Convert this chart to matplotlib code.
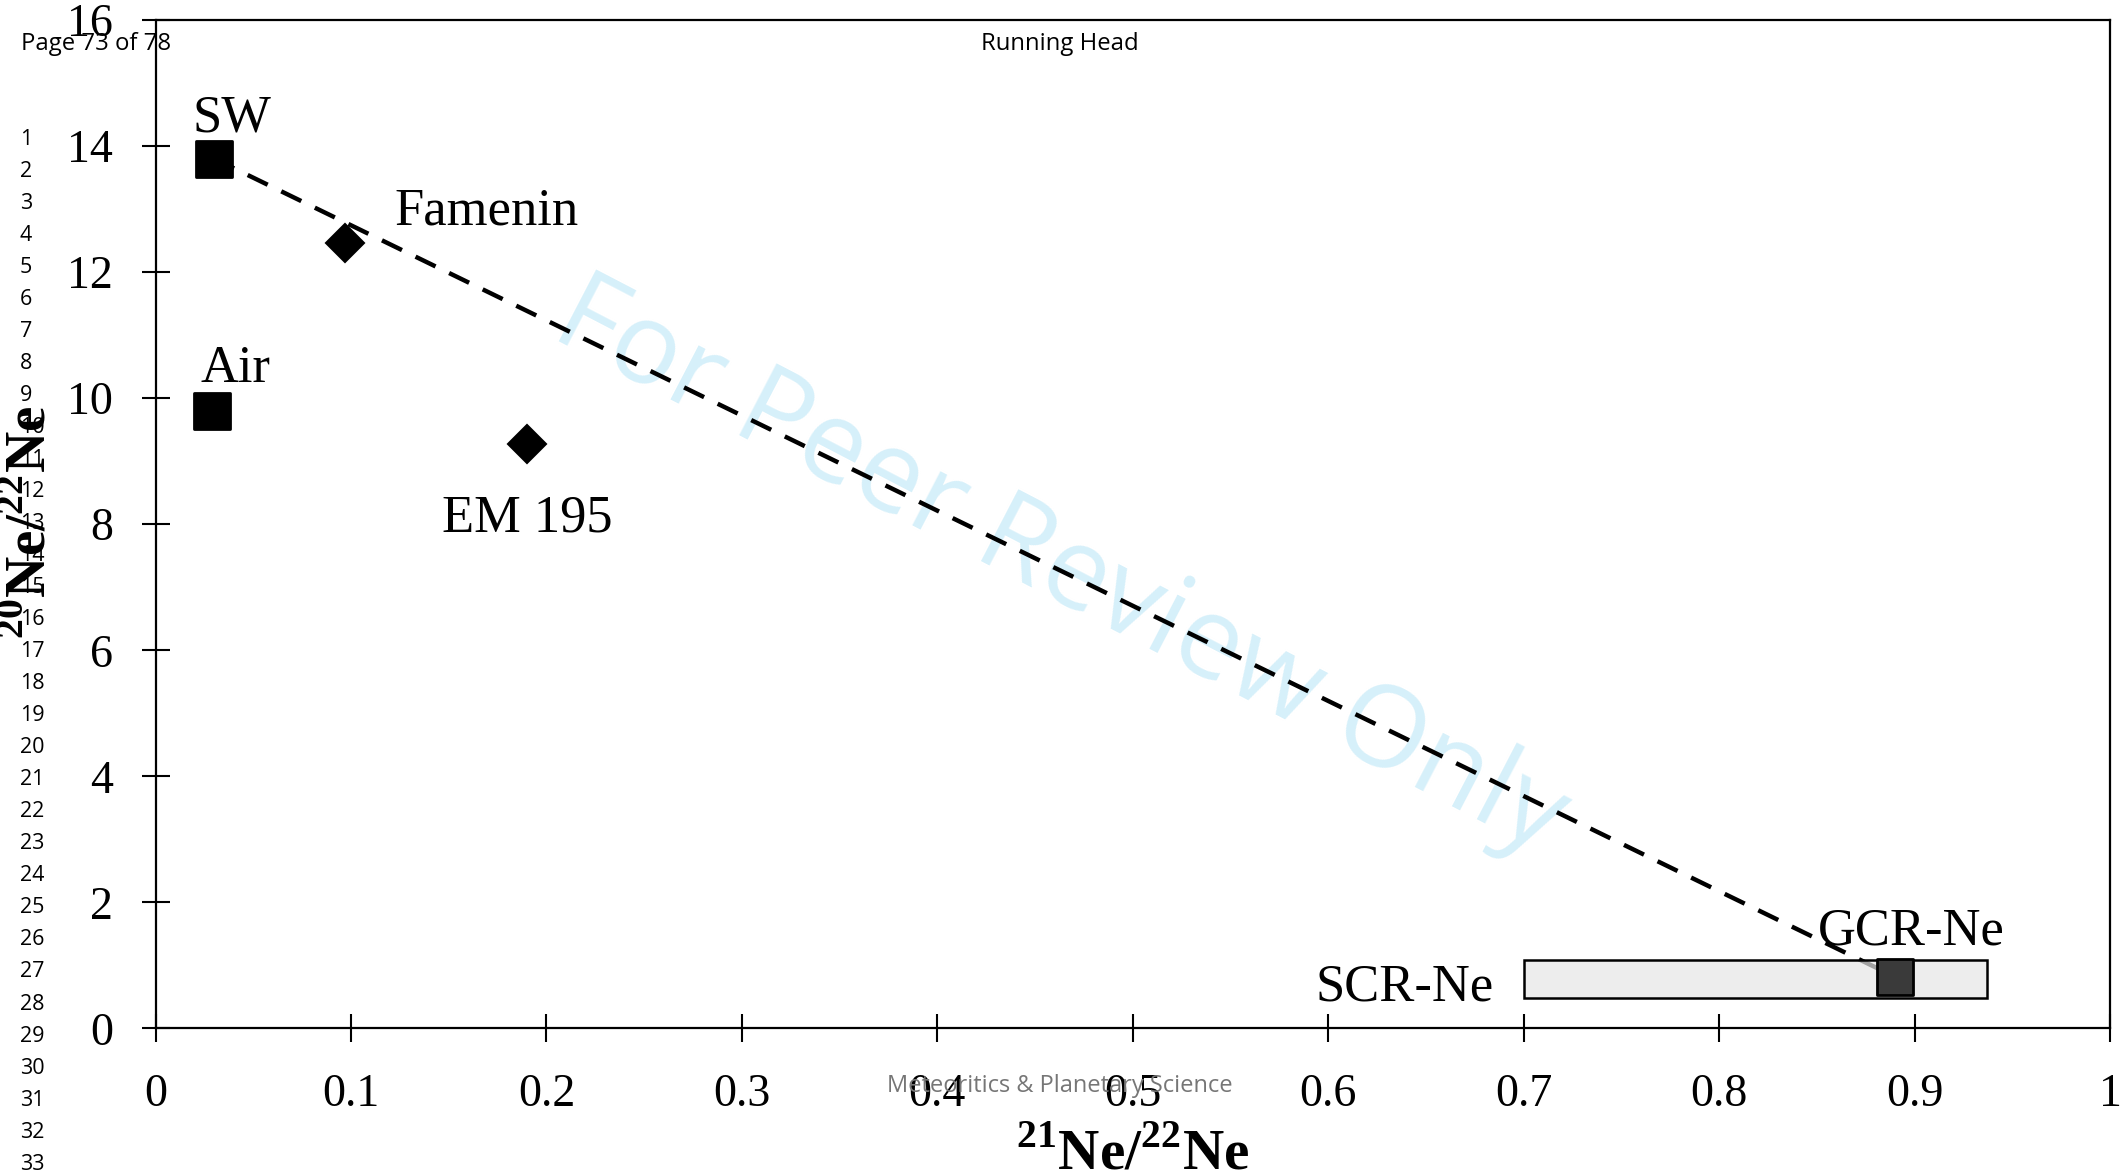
import matplotlib.pyplot as plt
from matplotlib.markers import MarkerStyle
from matplotlib.patches import Rectangle

plt.rcParams['font.family'] = 'Liberation Serif'
plt.rcParams['mathtext.fontset'] = 'custom'
plt.rcParams['mathtext.rm'] = 'Liberation Serif'
plt.rcParams['mathtext.bf'] = 'Liberation Serif:bold'

# end members (squares)
endmember_names = ['SW', 'Air']
endmember_x = [0.030, 0.029]
endmember_y = [13.80, 9.80]

# meteorites (diamonds)
meteorite_names = ['Famenin', 'EM 195']
meteorite_x = [0.097, 0.190]
meteorite_y = [12.46, 9.27]

# cosmogenic components
gcr_x = 0.890
gcr_y = 0.82
scr_x = [0.700, 0.937]
scr_y = [0.49, 1.09]

xticks = [0, 0.1, 0.2, 0.3, 0.4, 0.5, 0.6, 0.7, 0.8, 0.9, 1.0]
xtick_labels = ['0', '0.1', '0.2', '0.3', '0.4', '0.5', '0.6', '0.7', '0.8', '0.9', '1']
yticks = [0, 2, 4, 6, 8, 10, 12, 14, 16]

# where the names sit (left edge, baseline) in data units
label_pos = {
    'SW': (0.019, 14.23),
    'Air': (0.023, 10.25),
    'Famenin': (0.1225, 12.75),
    'EM 195': (0.1464, 7.88),
    'GCR-Ne': (0.8506, 1.325),
    'SCR-Ne': (0.5936, 0.452),
}

fig = plt.figure(figsize=(21.2, 11.76), dpi=100)
ax = fig.add_axes([0.07335, 0.12543, 0.92193, 0.85757])
ax.patch.set_alpha(0)

# mixing line SW -> GCR
ax.plot([endmember_x[0], gcr_x], [endmember_y[0], gcr_y], color='k', lw=3.2,
        ls=(0, (5, 3.4)), zorder=2)

ax.add_patch(Rectangle((scr_x[0], scr_y[0]), scr_x[1] - scr_x[0], scr_y[1] - scr_y[0],
                       facecolor=(0.9, 0.9, 0.9, 0.7), edgecolor='k', lw=1.8, zorder=3))

sq = MarkerStyle('s', joinstyle='round')
ax.plot(endmember_x, endmember_y, ls='none', marker=sq, ms=26, mfc='k', mec='k', mew=2, zorder=4)
ax.plot([gcr_x], [gcr_y], ls='none', marker=sq, ms=26, mfc='#3a3a3a', mec='k', mew=2, zorder=4)
ax.plot(meteorite_x, meteorite_y, ls='none', marker='D', ms=19, mfc='k', mec='k', mew=1.5, zorder=4)

for name in endmember_names + meteorite_names + ['GCR-Ne', 'SCR-Ne']:
    lx, ly = label_pos[name]
    ax.text(lx, ly, name, fontsize=37.8, ha='left', va='baseline', zorder=5)

ax.set_xlim(0, 1)
ax.set_ylim(0, 16)
ax.set_xticks(xticks)
ax.set_xticklabels(xtick_labels)
ax.set_yticks(yticks)
ax.tick_params(direction='inout', length=20.5, width=1.5, labelsize=33,
               top=False, right=False)
ax.tick_params(axis='y', pad=20.5)
ax.tick_params(axis='x', pad=22)
for s in ax.spines.values():
    s.set_linewidth(1.6)

fig.text(1133 / 2120, 1 - 1170 / 1176, r'$^{\mathbf{21}}$Ne/$^{\mathbf{22}}$Ne',
         fontsize=41, fontweight='bold', ha='center', va='baseline')
fig.text(46 / 2120, 1 - 522 / 1176, r'$^{\mathbf{20}}$Ne/$^{\mathbf{22}}$Ne',
         fontsize=41, fontweight='bold', ha='center', va='baseline',
         rotation=90, rotation_mode='anchor')

# page furniture of the manuscript
sans = 'Open Sans'
fig.text(0.5, 1 - 569 / 1176, 'For Peer Review Only', family=sans, fontsize=82,
         color=(0.84, 0.94, 0.98), rotation=-27.5, rotation_mode='anchor',
         ha='center', va='center', zorder=-1)
fig.text(21 / 2120, 1 - 50 / 1176, 'Page 73 of 78', family=sans, fontsize=17.2,
         ha='left', va='baseline')
fig.text(0.5, 1 - 50 / 1176, 'Running Head', family=sans, fontsize=17.2,
         ha='center', va='baseline')
fig.text(0.5, 1 - 1092 / 1176, 'Meteoritics & Planetary Science', family=sans,
         fontsize=17, color='#767676', ha='center', va='baseline')
for i in range(1, 34):
    fig.text(20 / 2120, 1 - (144.7 + (i - 1) * 32.03) / 1176, str(i), family=sans,
             fontsize=15.5, ha='left', va='baseline')

fig.savefig('out.png', dpi=100)
